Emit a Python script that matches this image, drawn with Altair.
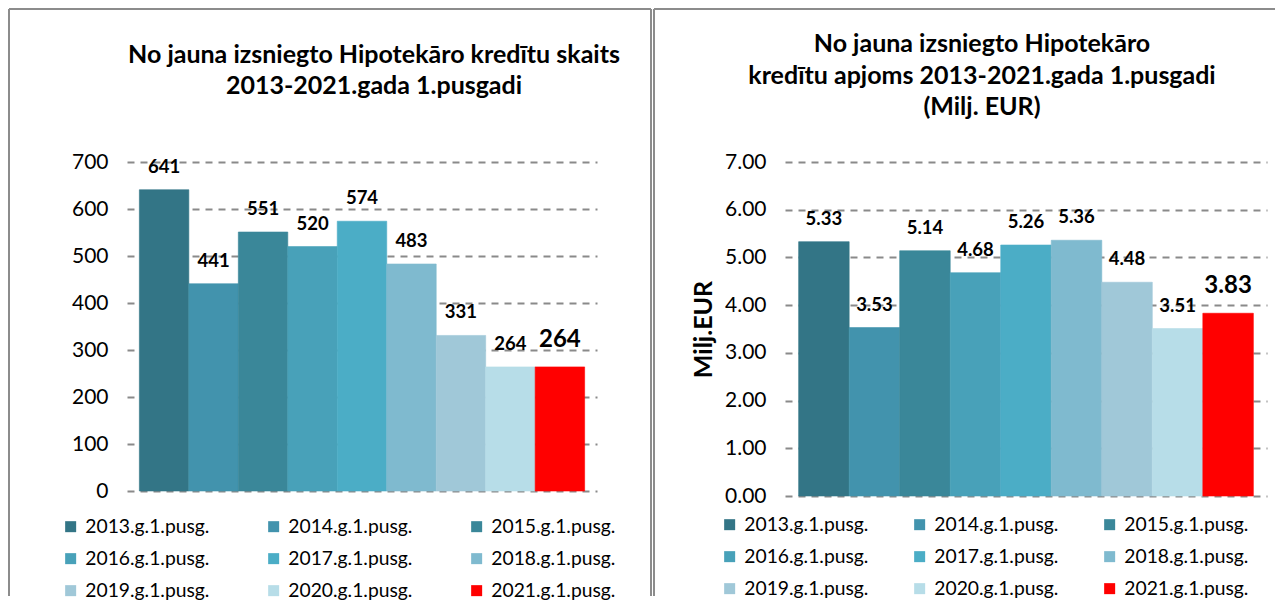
import altair as alt
import pandas as pd

categories = ["2013.g.1.pusg.", "2014.g.1.pusg.", "2015.g.1.pusg.",
              "2016.g.1.pusg.", "2017.g.1.pusg.", "2018.g.1.pusg.",
              "2019.g.1.pusg.", "2020.g.1.pusg.", "2021.g.1.pusg."]
counts = [641, 441, 551, 520, 574, 483, 331, 264, 264]
volumes = [5.33, 3.53, 5.14, 4.68, 5.26, 5.36, 4.48, 3.51, 3.83]
colors = ["#337586", "#4293ad", "#3a8799", "#48a1b9", "#4badc6",
          "#7fbacf", "#a0c8d8", "#b7dde8", "#ff0000"]
left_ticks = [0, 100, 200, 300, 400, 500, 600, 700]
right_ticks = [0, 1, 2, 3, 4, 5, 6, 7]
left_title = ["No jauna izsniegto Hipotekāro kredītu skaits", "2013-2021.gada 1.pusgadi"]
right_title = ["No jauna izsniegto Hipotekāro", "kredītu apjoms 2013-2021.gada 1.pusgadi", "(Milj. EUR)"]
right_ytitle = "Milj.EUR"

FONT = "Lato"
GRID = "#8a8a8a"
BORDER = "#8c8c8c"


def make_df(values):
    return pd.DataFrame({
        "cat": categories,
        "v": values,
        "big": [c == categories[-1] for c in categories],
    })


def panel(values, fmt, domain, ticks, w, h, pad_outer, title_lines, title_dx,
          title_offset, ytitle, legend_x, legend_y, col_pad, box):
    df = make_df(values)
    x = alt.X("cat:N", sort=categories,
              scale=alt.Scale(paddingInner=0, paddingOuter=pad_outer), axis=None)
    axis_kw = dict(values=ticks, format=fmt, grid=True, gridDash=[7, 6],
                   gridColor=GRID, gridWidth=2, domain=False, ticks=False,
                   labelPadding=19, labelFont=FONT, labelFontSize=21,
                   labelColor="#000")
    if ytitle:
        axis_kw.update(title=ytitle, titleFont=FONT, titleFontSize=25,
                       titleFontWeight="bold", titleColor="#000", titlePadding=8)
    else:
        axis_kw.update(title=None)
    y = alt.Y("v:Q", scale=alt.Scale(domain=domain, nice=False, zero=True),
              axis=alt.Axis(**axis_kw))
    color = alt.Color(
        "cat:N", sort=categories,
        scale=alt.Scale(domain=categories, range=colors),
        legend=alt.Legend(title=None, orient="none", legendX=legend_x,
                          legendY=legend_y, direction="horizontal", columns=3,
                          columnPadding=col_pad, rowPadding=12,
                          symbolType="square", symbolSize=121,
                          symbolStrokeWidth=0, labelFont=FONT, labelFontSize=19.3,
                          labelColor="#000", labelOffset=5, labelLimit=300),
    )
    stroke = alt.Stroke("cat:N", sort=categories,
                        scale=alt.Scale(domain=categories, range=colors),
                        legend=None)
    base = alt.Chart(df)
    bars = base.mark_bar(strokeWidth=0.6).encode(x=x, y=y, color=color, stroke=stroke)
    labels = base.transform_filter("!datum.big").mark_text(
        font=FONT, fontSize=18.5, fontWeight="bold", color="#000",
        baseline="middle", dy=-23).encode(x=x, y=y, text=alt.Text("v:Q", format=fmt))
    big = base.transform_filter("datum.big").mark_text(
        font=FONT, fontSize=24, fontWeight="bold", color="#000",
        baseline="middle", dy=-27).encode(x=x, y=y, text=alt.Text("v:Q", format=fmt))

    one = alt.Chart(pd.DataFrame({"k": [0]}))
    bx0, by0, bx1, by1, right_side = box
    rule_kw = dict(color=BORDER, strokeWidth=2)
    layers = [bars, labels, big]
    layers.append(one.mark_rule(**rule_kw).encode(
        x=alt.value(bx0), y=alt.value(by0), y2=alt.value(by1)))
    layers.append(one.mark_rule(**rule_kw).encode(
        x=alt.value(bx0), x2=alt.value(bx1), y=alt.value(by0)))
    if right_side:
        layers.append(one.mark_rule(**rule_kw).encode(
            x=alt.value(bx1), y=alt.value(by0), y2=alt.value(by1)))

    return alt.layer(*layers).properties(
        width=w, height=h,
        title=alt.TitleParams(text=title_lines, font=FONT, fontSize=25,
                              fontWeight="bold", color="#000", anchor="middle",
                              dx=title_dx, offset=title_offset, lineHeight=31.5,
                              frame="group"),
    )


left = panel(counts, "d", [0, 700], left_ticks, 470, 329, 0.25, left_title, 12,
             -91, None, -66, 355, 54, (-118, -153, 524, 434, True))
right = panel(volumes, ".2f", [0, 7], right_ticks, 482, 334, 0.27, right_title, -44,
              -112, right_ytitle, -65, 353, 41, (-131, -153, 490, 434, False))

chart = alt.hconcat(left, right, spacing=188, bounds="flush").resolve_scale(
    color="independent", stroke="independent", x="independent", y="independent"
).resolve_legend(color="independent").configure_view(stroke=None).properties(
    padding=0, background="white")

chart.save("out.html", embed_options={"renderer": "svg", "actions": False})
